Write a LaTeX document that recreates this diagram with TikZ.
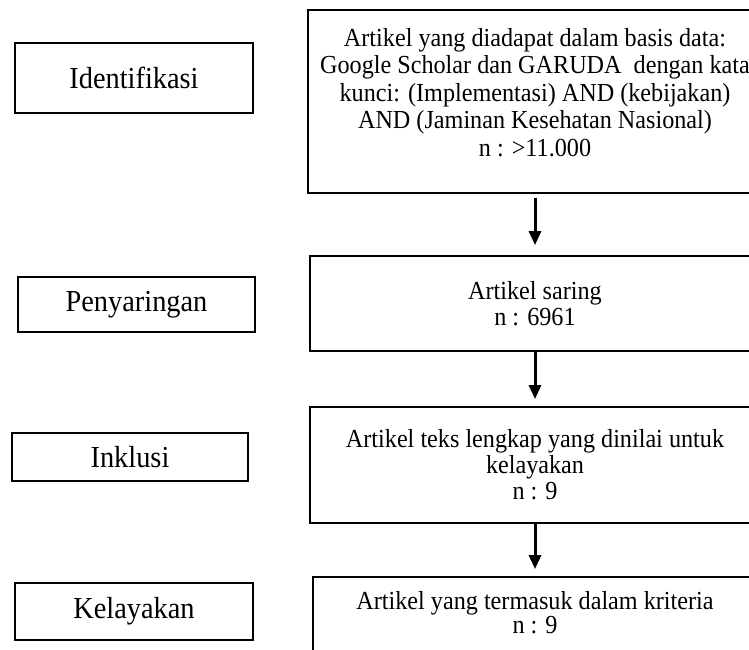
\documentclass[tikz,border=0pt]{standalone}
\usepackage{fontspec}
\setmainfont{Liberation Serif}[FakeStretch=0.93]
\usetikzlibrary{arrows.meta}
\tikzset{stage/.style={draw=black, line width=1.8pt, inner sep=0pt, font=\fontsize{30.5}{34}\selectfont}}
\tikzset{stepbox/.style={draw=black, line width=1.8pt, inner sep=0pt, align=center, font=\fontsize{26}{26}\selectfont}}
\tikzset{flow/.style={->, line width=3pt}}

\begin{document}
\begin{tikzpicture}[x=1pt, y=-1pt, >={Triangle[length=14pt,width=12pt]}]
\useasboundingbox (0,0) rectangle (749,650);
\clip (0,0) rectangle (749,650);

%stages (left)
\node[stage, minimum width=238pt, minimum height=70pt] (idn) at (134,78)    {Identifikasi};
\node[stage, minimum width=237pt, minimum height=55pt] (pny) at (136.5,304.5) {Penyaringan};
\node[stage, minimum width=236pt, minimum height=48pt] (ink) at (130,457)   {Inklusi};
\node[stage, minimum width=238pt, minimum height=57pt] (kly) at (134,611.5) {Kelayakan};

%steps (right)
\node[stepbox, minimum width=454pt, minimum height=183pt, font=\fontsize{26}{27.5}\selectfont] (art) at (535,101.5)
  {Artikel yang diadapat dalam basis data:\\ Google Scholar dan GARUDA~ dengan kata\\ kunci: (Implementasi) AND (kebijakan)\\ AND (Jaminan Kesehatan Nasional)\\ n : >11.000\\[-9pt]\mbox{}};
\node[stepbox, minimum width=450pt, minimum height=95pt]  (sar) at (535,303.5)
  {Artikel saring\\ n : 6961};
\node[stepbox, minimum width=450pt, minimum height=116pt] (tks) at (535,465)
  {Artikel teks lengkap yang dinilai untuk\\ kelayakan\\ n : 9};
\node[stepbox, minimum width=444pt, minimum height=84pt, font=\fontsize{26}{22}\selectfont] (krt) at (535,619)
  {Artikel yang termasuk dalam kriteria\\ n : 9\\[-9pt]\mbox{}};

%arrows
\draw[flow] ([yshift=-4pt]art.south) -- ([yshift=10pt]sar.north);
\draw[flow] (sar.south) -- ([yshift=7pt]tks.north);
\draw[flow] (tks.south) -- ([yshift=7pt]krt.north);
\end{tikzpicture}
\end{document}
